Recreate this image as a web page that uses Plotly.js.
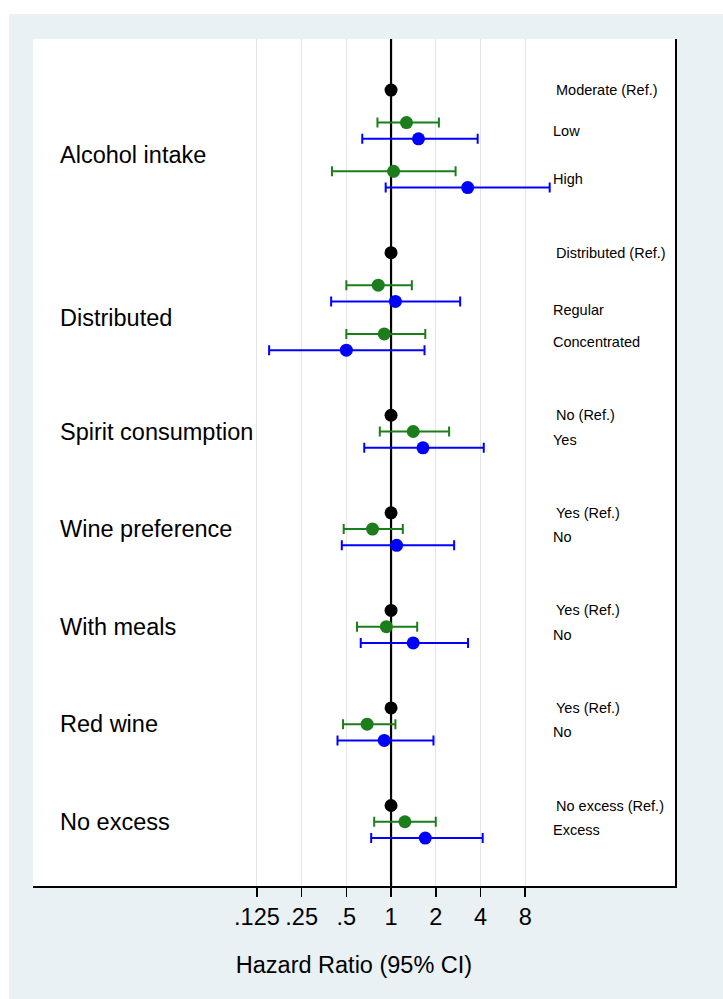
<!DOCTYPE html>
<html>
<head>
<meta charset="utf-8">
<script src="https://cdn.plot.ly/plotly-3.0.1.min.js"></script>
<style>
  html, body { margin: 0; padding: 0; background: #ffffff; }
  #chart { width: 723px; height: 999px; }
</style>
</head>
<body>
<div id="chart"></div>
<script>
// ---- Data ----
var groupNames = ["Alcohol intake", "Distributed", "Spirit consumption", "Wine preference", "With meals", "Red wine", "No excess"];
var groupRows = [4, 14, 21, 27, 33, 39, 45];

var refLabels = ["Moderate (Ref.)", "Distributed (Ref.)", "No (Ref.)", "Yes (Ref.)", "Yes (Ref.)", "Yes (Ref.)", "No excess (Ref.)"];
var refRows = [0, 10, 20, 26, 32, 38, 44];
var refHR = [1, 1, 1, 1, 1, 1, 1];

var catLabels = ["Low", "High", "Regular", "Concentrated", "Yes", "No", "No", "No", "Excess"];
var catRows = [2.5, 5.5, 13.5, 15.5, 21.5, 27.5, 33.5, 39.5, 45.5];

var greenRows = [2, 5, 12, 15, 21, 27, 33, 39, 45];
var greenHR = [1.27, 1.04, 0.82, 0.90, 1.41, 0.75, 0.93, 0.69, 1.24];
var greenLo = [0.81, 0.40, 0.50, 0.50, 0.84, 0.48, 0.59, 0.475, 0.77];
var greenHi = [2.10, 2.72, 1.38, 1.70, 2.46, 1.20, 1.50, 1.07, 2.00];

var blueRows = [3, 6, 13, 16, 22, 28, 34, 40, 46];
var blueHR = [1.53, 3.28, 1.07, 0.50, 1.64, 1.09, 1.41, 0.90, 1.70];
var blueLo = [0.64, 0.92, 0.395, 0.151, 0.66, 0.466, 0.625, 0.436, 0.735];
var blueHi = [3.83, 11.7, 2.92, 1.68, 4.21, 2.66, 3.30, 1.93, 4.14];

var tickVals = [0.125, 0.25, 0.5, 1, 2, 4, 8];
var tickText = [".125", ".25", ".5", "1", "2", "4", "8"];

// ---- Build ----
var FONT = "Liberation Sans, Arial, Helvetica, sans-serif";
var GREEN = "#1b7d1b";
var BLUE = "#0000ff";

function diff(a, b) { return a.map(function (v, i) { return v - b[i]; }); }

var refLine = {
  type: "scatter", mode: "lines",
  x: [1, 1], y: [-10, 60],
  line: { color: "#000000", width: 2.2 },
  hoverinfo: "skip", showlegend: false
};

function ciTrace(hr, lo, hi, rows, color) {
  return {
    type: "scatter", mode: "markers",
    x: hr, y: rows,
    marker: { color: color, size: 13, line: { width: 0 } },
    error_x: {
      type: "data", symmetric: false,
      array: diff(hi, hr), arrayminus: diff(hr, lo),
      color: color, thickness: 2, width: 5
    },
    showlegend: false
  };
}

var refTrace = {
  type: "scatter", mode: "markers",
  x: refHR, y: refRows,
  marker: { color: "#000000", size: 13 },
  showlegend: false
};

var annotations = [];
groupNames.forEach(function (t, i) {
  annotations.push({
    text: t, xref: "paper", yref: "y", x: 0.039, y: groupRows[i],
    xanchor: "left", yanchor: "middle", showarrow: false,
    font: { family: FONT, size: 23.5, color: "#000000" }
  });
});
refLabels.forEach(function (t, i) {
  annotations.push({
    text: t, xref: "paper", yref: "y", x: 0.8115, y: refRows[i],
    xanchor: "left", yanchor: "middle", showarrow: false,
    font: { family: FONT, size: 14.5, color: "#000000" }
  });
});
catLabels.forEach(function (t, i) {
  annotations.push({
    text: t, xref: "paper", yref: "y", x: 0.8069, y: catRows[i],
    xanchor: "left", yanchor: "middle", showarrow: false,
    font: { family: FONT, size: 14.5, color: "#000000" }
  });
});

var layout = {
  width: 723, height: 999,
  margin: { l: 33, r: 48, t: 39, b: 113, pad: 0 },
  paper_bgcolor: "#eaf1f4",
  plot_bgcolor: "#ffffff",
  showlegend: false,
  hovermode: false,
  font: { family: FONT, color: "#000000" },
  xaxis: {
    type: "log",
    range: [-2.411, 1.912],
    tickvals: tickVals, ticktext: tickText,
    ticks: "outside", ticklen: 9, tickwidth: 1.5, tickcolor: "#000000",
    tickfont: { family: FONT, size: 23.5, color: "#000000" },
    showgrid: true, gridcolor: "#e4e4e4", gridwidth: 1,
    showline: true, linecolor: "#000000", linewidth: 1.5,
    zeroline: false,
    title: { text: "Hazard Ratio (95% CI)", font: { family: FONT, size: 23.5, color: "#000000" }, standoff: 28 }
  },
  yaxis: {
    range: [48.95, -3.14],
    side: "right",
    showline: true, linecolor: "#000000", linewidth: 1.5,
    showgrid: false, zeroline: false,
    showticklabels: false, ticks: ""
  },
  shapes: [
    { type: "rect", xref: "paper", yref: "paper", x0: -0.2, x1: 1.2, y0: 1.0295, y1: 1.2,
      fillcolor: "#ffffff", line: { width: 0 }, layer: "below" },
    { type: "rect", xref: "paper", yref: "paper", x0: -0.2, x1: -0.0374, y0: -0.3, y1: 1.2,
      fillcolor: "#ffffff", line: { width: 0 }, layer: "below" }
  ],
  annotations: annotations
};

Plotly.newPlot("chart", [refLine,
  ciTrace(greenHR, greenLo, greenHi, greenRows, GREEN),
  ciTrace(blueHR, blueLo, blueHi, blueRows, BLUE),
  refTrace], layout, { staticPlot: true, displayModeBar: false });
</script>
</body>
</html>
